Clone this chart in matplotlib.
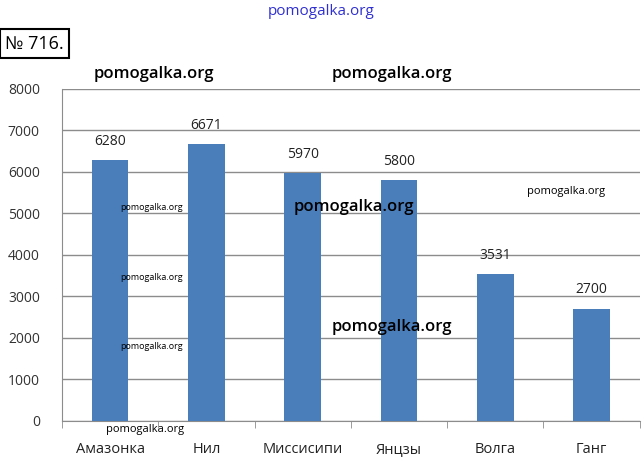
import numpy as np
import matplotlib.pyplot as plt

# river lengths, km
rivers = ["Амазонка", "Нил", "Миссисипи", "Янцзы", "Волга", "Ганг"]
lengths = [6280, 6671, 5970, 5800, 3531, 2700]
yticks = [0, 1000, 2000, 3000, 4000, 5000, 6000, 7000, 8000]

plt.rcParams['font.family'] = ['Open Sans', 'DejaVu Sans']

fig = plt.figure(figsize=(6.43, 4.61), dpi=100)
ax = fig.add_axes([0.0964, 0.0868, 0.8986, 0.7202])

x = np.arange(len(rivers))
ax.bar(x, lengths, width=0.38, color="#4a7ebb", zorder=3)
for xi, v in zip(x, lengths):
    ax.text(xi, v + 280, str(v), ha="center", va="bottom", fontsize=10, color="#222222")

ax.set_xlim(-0.5, len(rivers) - 0.5)
ax.set_ylim(0, 8000)
ax.set_yticks(yticks)
ax.set_yticklabels([str(t) for t in yticks], fontsize=10, color="#333333")
ax.yaxis.grid(True, color="#8c8c8c", linewidth=1, zorder=0)
ax.tick_params(axis="y", length=0, pad=16)

# category ticks sit between bars
ax.set_xticks(x)
ax.set_xticklabels(rivers, fontsize=10.5, color="#222222")
ax.set_xticks(np.arange(len(rivers) + 1) - 0.5, minor=True)
ax.tick_params(axis="x", which="major", length=0, pad=15)
ax.tick_params(axis="x", which="minor", length=5, color="#8c8c8c")

for s in ["top", "right"]:
    ax.spines[s].set_visible(False)
ax.spines["left"].set_color("#8c8c8c")
ax.spines["bottom"].set_color("#8c8c8c")

# exercise number box
fig.text(0.008, 0.905, "№ 716.", fontsize=13, ha="left", va="center",
         bbox=dict(boxstyle="square,pad=0.3", fc="white", ec="black", lw=1.5))

# watermarks
fig.text(0.5, 0.975, "pomogalka.org", fontsize=11, color="#3030d0", ha="center", va="center")
wm = [(0.24, 0.84, 12), (0.61, 0.84, 12), (0.55, 0.55, 12), (0.61, 0.29, 12),
      (0.88, 0.585, 8), (0.235, 0.55, 6.5), (0.235, 0.397, 6.5), (0.235, 0.248, 6.5),
      (0.225, 0.068, 8)]
for wx, wy, fs in wm:
    fig.text(wx, wy, "pomogalka.org", fontsize=fs, fontweight="semibold" if fs > 10 else "normal",
             ha="center", va="center", color="black", zorder=10)

fig.savefig("out.png", dpi=100)
